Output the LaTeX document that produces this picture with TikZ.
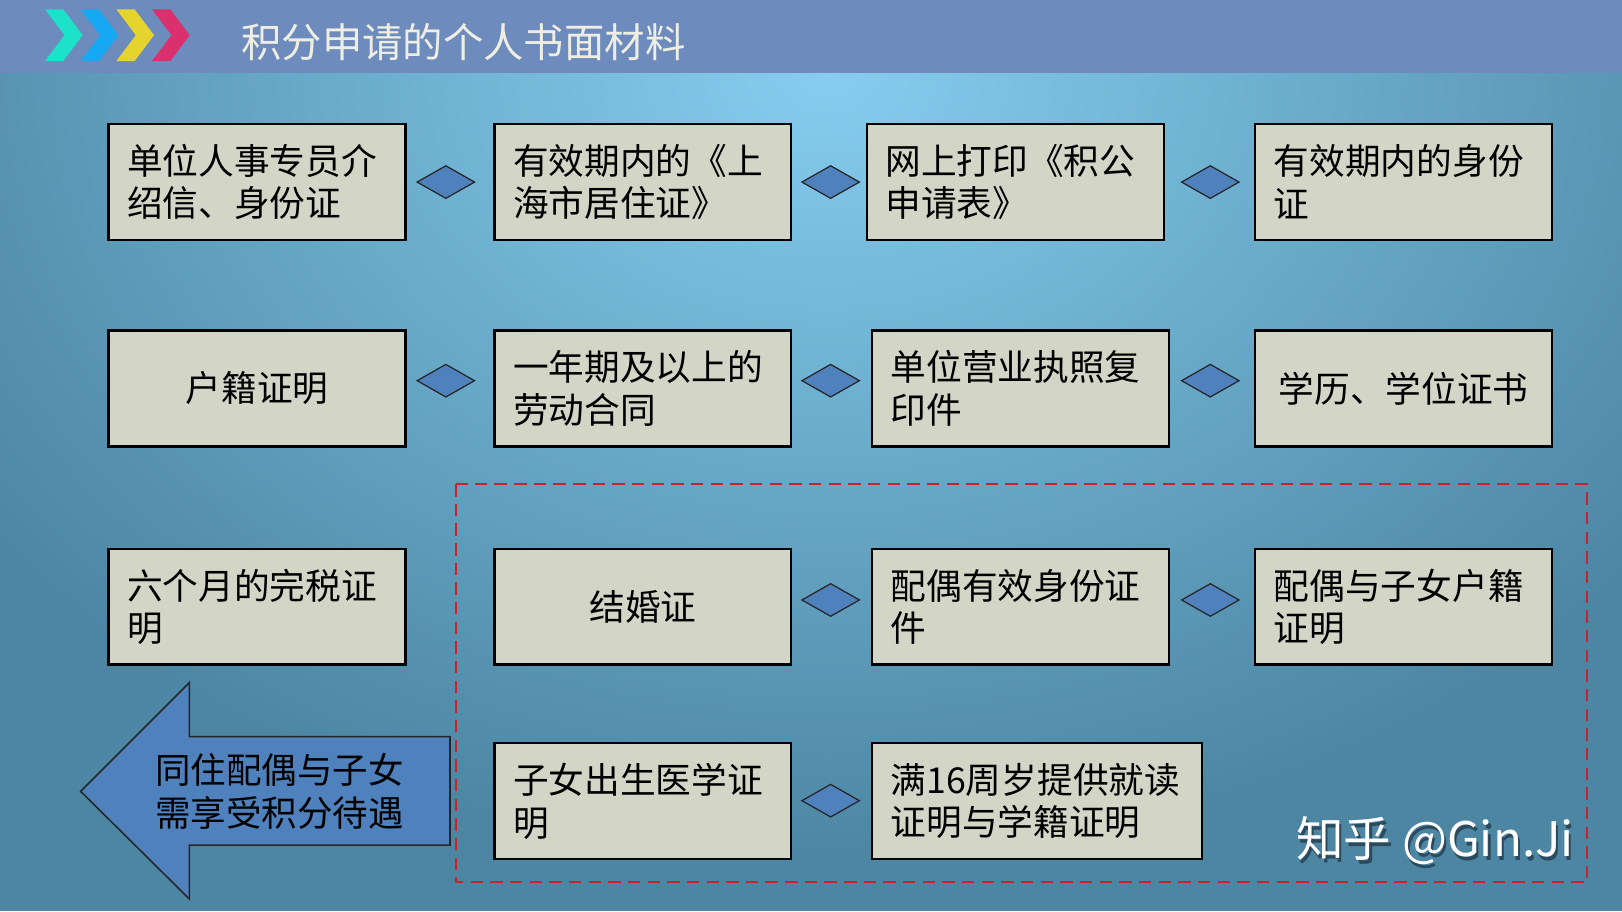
\documentclass[tikz,border=0pt]{standalone}
\usepackage{fontspec}
\setmainfont{Noto Sans CJK SC}
\usetikzlibrary{shapes.geometric}
\definecolor{headblue}{HTML}{6E8BBD}
\definecolor{skylight}{HTML}{86CDEF}
\definecolor{skydark}{HTML}{4C86A3}
\definecolor{boxgray}{HTML}{D3D6C6}
\definecolor{officeblue}{HTML}{4F81BD}
\definecolor{dashred}{HTML}{C8232C}
\definecolor{titlewhite}{HTML}{EEEEE2}
\definecolor{shadowblue}{HTML}{2C4A5E}
\tikzset{
  item/.style={draw=black, line width=2.2pt, fill=boxgray, minimum width=287pt,
    minimum height=112pt, text width=251pt, inner xsep=18pt, align=left,
    font=\fontsize{34.5}{41}\selectfont},
  link/.style={shape=diamond, draw=black!85, line width=1.2pt, fill=officeblue,
    minimum width=56pt, minimum height=32pt, inner sep=0pt},
}
\begin{document}
\begin{tikzpicture}[x=1pt,y=-1pt]
\useasboundingbox (0,0) rectangle (1568,881);
% background
\begin{scope}
\clip (0,71) rectangle (1568,881);
\fill[skydark] (0,71) rectangle (1568,881);
\shade[inner color=skylight, outer color=skydark] (800,70) ellipse (1000pt and 760pt);
\end{scope}
\fill[headblue] (0,0) rectangle (1568,71);
% title bar
\fill[color={rgb,255:red,27;green,226;blue,200}] (43.5,9) -- (61.1,9) -- (79.9,34) -- (61.1,59) -- (43.5,59) -- (62.3,34) -- cycle;
\fill[color={rgb,255:red,22;green,168;blue,242}] (78,9) -- (95.6,9) -- (114.4,34) -- (95.6,59) -- (78,59) -- (96.8,34) -- cycle;
\fill[color={rgb,255:red,230;green,212;blue,46}] (112.5,9) -- (130.1,9) -- (148.9,34) -- (130.1,59) -- (112.5,59) -- (131.3,34) -- cycle;
\fill[color={rgb,255:red,218;green,48;blue,110}] (147,9) -- (164.6,9) -- (183.4,34) -- (164.6,59) -- (147,59) -- (165.8,34) -- cycle;
\node[anchor=west, text=titlewhite, font=\fontsize{39}{45}\selectfont] (title) at (230,41) {积分申请的个人书面材料};
% group of family items
\draw[dashred, line width=2pt, dash pattern=on 12pt off 7pt] (441,468) rectangle (1534,853);
% boxes
\node[item] (b11) at (248.5,176) {单位人事专员介\\绍信、身份证};
\node[item] (b12) at (621.5,176) {有效期内的《上\\海市居住证》};
\node[item] (b13) at (981.5,176) {网上打印《积公\\申请表》};
\node[item] (b14) at (1357,176) {有效期内的身份\\证};
\node[item, align=center] (b21) at (248.5,375.5) {户籍证明};
\node[item] (b22) at (621.5,375.5) {一年期及以上的\\劳动合同};
\node[item] (b23) at (986.5,375.5) {单位营业执照复\\印件};
\node[item, align=center] (b24) at (1357,375.5) {学历、学位证书};
\node[item] (b31) at (248.5,586.5) {六个月的完税证\\明};
\node[item, align=center] (b32) at (621.5,586.5) {结婚证};
\node[item] (b33) at (986.5,586.5) {配偶有效身份证\\件};
\node[item] (b34) at (1357,586.5) {配偶与子女户籍\\证明};
\node[item] (b42) at (621.5,774.5) {子女出生医学证\\明};
\node[item, minimum width=319pt, text width=283pt] (b43) at (1002.5,774.5) {满16周岁提供就读\\证明与学籍证明};
% diamonds
\node[link] (d11) at (431,176) {};
\node[link] (d12) at (803,176) {};
\node[link] (d13) at (1170,176) {};
\node[link] (d21) at (431,368) {};
\node[link] (d22) at (803,368) {};
\node[link] (d23) at (1170,368) {};
\node[link] (d32) at (803,580) {};
\node[link] (d33) at (1170,580) {};
\node[link] (d42) at (803,774) {};
% arrow
\filldraw[fill=officeblue, draw=black!85, line width=1.5pt] (435,712) -- (183,712) -- (183,660) -- (78,765) -- (183,869) -- (183,817) -- (435,817) -- cycle;
\node[align=left, font=\fontsize{34.3}{41}\selectfont] (share) at (270,765) {同住配偶与子女\\需享受积分待遇};
% watermark
\node[anchor=east, text=shadowblue, font=\fontsize{46}{50}\selectfont] (markshade) at (1527,816) {知乎 @Gin.Ji};
\node[anchor=east, text=white, font=\fontsize{46}{50}\selectfont] (mark) at (1525,813) {知乎 @Gin.Ji};
\end{tikzpicture}
\end{document}
